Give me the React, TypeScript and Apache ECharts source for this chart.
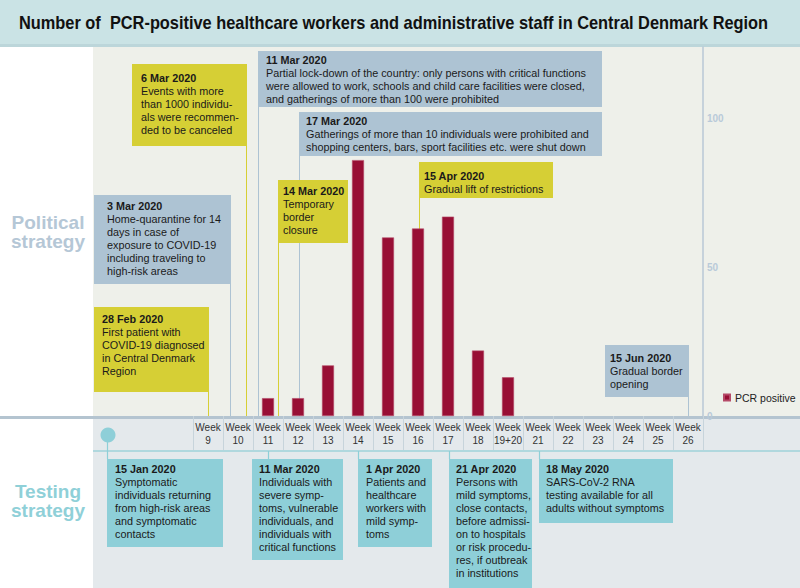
import React, { useEffect, useRef } from 'react';
import * as echarts from 'echarts';

const weeks = ['Week\n9', 'Week\n10', 'Week\n11', 'Week\n12', 'Week\n13', 'Week\n14', 'Week\n15', 'Week\n16', 'Week\n17', 'Week\n18', 'Week\n19+20', 'Week\n21', 'Week\n22', 'Week\n23', 'Week\n24', 'Week\n25', 'Week\n26'];
const pcrPositive = [null, null, 6, 6, 17, 86, 60, 63, 67, 22, 13, null, null, null, null, null, null];
const yTickValues = [0, 50, 100];
const seriesName = 'PCR positive';
const titleText = 'Number of  PCR-positive healthcare workers and administrative staff in Central Denmark Region';

const politicalDates = ['28 Feb 2020', '3 Mar 2020', '6 Mar 2020', '11 Mar 2020', '17 Mar 2020', '14 Mar 2020', '15 Apr 2020', '15 Jun 2020'];
const politicalTexts = [
  ['First patient with', 'COVID-19 diagnosed', 'in Central Denmark', 'Region'],
  ['Home-quarantine for 14', 'days in case of', 'exposure to COVID-19', 'including traveling to', 'high-risk areas'],
  ['Events with more', 'than 1000 individu-', 'als were recommen-', 'ded to be canceled'],
  ['Partial lock-down of the country: only persons with critical functions', 'were allowed to work, schools and child care facilities were closed,', 'and gatherings of more than 100 were prohibited'],
  ['Gatherings of more than 10 individuals were prohibited and', 'shopping centers, bars, sport facilities etc. were shut down'],
  ['Temporary', 'border', 'closure'],
  ['Gradual lift of restrictions'],
  ['Gradual border', 'opening'],
];
const politicalKinds = ['yellow', 'blue', 'yellow', 'blue', 'blue', 'yellow', 'yellow', 'blue'];

const testingDates = ['15 Jan 2020', '11 Mar 2020', '1 Apr 2020', '21 Apr 2020', '18 May 2020'];
const testingTexts = [
  ['Symptomatic', 'individuals returning', 'from high-risk areas', 'and symptomatic', 'contacts'],
  ['Individuals with', 'severe symp-', 'toms, vulnerable', 'individuals, and', 'individuals with', 'critical functions'],
  ['Patients and', 'healthcare', 'workers with', 'mild symp-', 'toms'],
  ['Persons with', 'mild symptoms,', 'close contacts,', 'before admissi-', 'on to hospitals', 'or risk procedu-', 'res, if outbreak', 'in institutions'],
  ['SARS-CoV-2 RNA', 'testing available for all', 'adults without symptoms'],
];

// layout (pixels): [x, y, w, h, textX, dateCenterY, connectorX]
const politicalLayout = [
  [94, 307, 115, 85, 102, 319, 208.5],
  [94, 195, 137, 89, 107, 206, 230.5],
  [132, 64, 115, 82, 141, 78, 246.5],
  [258, 51, 344, 56, 266, 60, 258.5],
  [299, 112, 303, 44, 306, 121, 299.5],
  [278, 180, 70, 63, 283, 191, 278.5],
  [419, 162, 134, 36, 424, 176, 419.5],
  [605, 345, 84, 52, 610, 358, 688.5],
];
const testingLayout = [
  [107, 459, 116, 88, 115, 469, 107.5],
  [252, 459, 91, 101, 259, 469, 268.5],
  [358, 459, 74, 88, 366, 469, 358.5],
  [449, 459, 83, 129, 456, 469, 449.5],
  [539, 459, 134, 64, 546, 469, 539.5],
];

const FONT = "'Liberation Sans', Arial, sans-serif";
const COLORS = {
  yellow: '#d6cf35',
  blue: '#adc3d3',
  teal: '#8ecfd8',
  bar: '#980f35',
};
const AXIS_Y = 416;
const BOX_FONT = 10.8;

function textEls(x: number, cy: number, date: string, lines: string[]) {
  return [
    {
      type: 'text', x, y: cy - 6.5, z: 6,
      style: { text: date, fontFamily: FONT, fontSize: BOX_FONT, fontWeight: 'bold', fill: '#1a1a1a', align: 'left', textAlign: 'left', verticalAlign: 'top', textVerticalAlign: 'top', lineHeight: 13 },
    },
    {
      type: 'text', x, y: cy + 6.5, z: 6,
      style: { text: lines.join('\n'), fontFamily: FONT, fontSize: BOX_FONT, fill: '#1a1a1a', align: 'left', textAlign: 'left', verticalAlign: 'top', textVerticalAlign: 'top', lineHeight: 13 },
    },
  ];
}

function buildGraphics() {
  const els: any[] = [];
  // backgrounds
  els.push({ type: 'rect', z: 0, shape: { x: 0, y: 0, width: 800, height: 44 }, style: { fill: '#cae3e5' } });
  els.push({ type: 'rect', z: 0, shape: { x: 0, y: 44, width: 800, height: 3 }, style: { fill: '#bcd6da' } });
  els.push({ type: 'rect', z: 0, shape: { x: 93, y: 47, width: 707, height: AXIS_Y - 47 }, style: { fill: '#eef0ea' } });
  els.push({ type: 'rect', z: 0, shape: { x: 93, y: AXIS_Y, width: 707, height: 588 - AXIS_Y }, style: { fill: '#e4e9ec' } });
  els.push({ type: 'rect', z: 1, shape: { x: 0, y: AXIS_Y, width: 800, height: 3 }, style: { fill: '#b4c4d0' } });
  els.push({ type: 'line', z: 1, shape: { x1: 93, y1: 451, x2: 800, y2: 451 }, style: { stroke: '#9fd2da', lineWidth: 1.5 } });
  // title
  els.push({
    type: 'text', x: 19, y: 23, z: 6, scaleX: 0.91,
    style: { text: titleText, fontFamily: FONT, fontSize: 18, fontWeight: 'bold', fill: '#111', align: 'left', textAlign: 'left', verticalAlign: 'middle', textVerticalAlign: 'middle' },
  });
  // side labels
  els.push({
    type: 'text', x: 48, y: 232, z: 6,
    style: { text: 'Political\nstrategy', fontFamily: FONT, fontSize: 19, fontWeight: 'bold', fill: '#b5c7d6', align: 'center', textAlign: 'center', verticalAlign: 'middle', textVerticalAlign: 'middle', lineHeight: 19 },
  });
  els.push({
    type: 'text', x: 48, y: 501, z: 6,
    style: { text: 'Testing\nstrategy', fontFamily: FONT, fontSize: 19, fontWeight: 'bold', fill: '#8fd0d8', align: 'center', textAlign: 'center', verticalAlign: 'middle', textVerticalAlign: 'middle', lineHeight: 19 },
  });
  // political annotations
  politicalDates.forEach((d, i) => {
    const [x, y, w, h, tx, cy, cx] = politicalLayout[i];
    const col = politicalKinds[i] === 'yellow' ? COLORS.yellow : COLORS.blue;
    els.push({ type: 'line', z: 2, shape: { x1: cx, y1: y + h, x2: cx, y2: AXIS_Y }, style: { stroke: col, lineWidth: 1 } });
    els.push({ type: 'rect', z: 5, shape: { x, y, width: w, height: h }, style: { fill: col } });
    els.push(...textEls(tx, cy, d, politicalTexts[i]));
  });
  // testing annotations
  els.push({ type: 'circle', z: 5, shape: { cx: 108, cy: 435, r: 7.5 }, style: { fill: COLORS.teal } });
  testingDates.forEach((d, i) => {
    const [x, y, w, h, tx, cy, cx] = testingLayout[i];
    const top = i === 0 ? 435 : 451;
    els.push({ type: 'line', z: 2, shape: { x1: cx, y1: top, x2: cx, y2: y }, style: { stroke: COLORS.teal, lineWidth: 1.2 } });
    els.push({ type: 'rect', z: 5, shape: { x, y, width: w, height: h }, style: { fill: COLORS.teal } });
    els.push(...textEls(tx, cy, d, testingTexts[i]));
  });
  return els;
}

export default function App() {
  const ref = useRef<HTMLDivElement>(null);
  useEffect(() => {
    if (!ref.current) return;
    const chart = echarts.init(ref.current, undefined, { renderer: 'svg' });
    chart.setOption({
      animation: false,
      backgroundColor: '#ffffff',
      grid: { left: 193, right: 97, top: 47, bottom: 588 - AXIS_Y },
      legend: {
        data: [seriesName], left: 723, top: 392, padding: 0,
        itemWidth: 6, itemHeight: 6, icon: 'rect',
        textStyle: { fontFamily: FONT, fontSize: 10.5, color: '#222' },
      },
      xAxis: {
        type: 'category', data: weeks, z: 3,
        axisLine: { show: false },
        axisTick: { show: true, length: 34, lineStyle: { color: '#c7d4db', width: 1 } },
        axisLabel: { interval: 0, margin: 5, fontFamily: FONT, fontSize: 10, color: '#333', lineHeight: 13, verticalAlign: 'top' },
      },
      yAxis: {
        type: 'value', position: 'right', min: 0, max: 124, interval: 50, z: 3,
        axisLine: { show: true, lineStyle: { color: '#b8c8d6', width: 1.5 } },
        axisTick: { show: false },
        splitLine: { show: false },
        axisLabel: {
          margin: 4, fontFamily: FONT, fontSize: 10, fontWeight: 'bold', color: '#b9cad9',
          formatter: (v: number) => (yTickValues.indexOf(v) >= 0 ? String(v) : ''),
        },
      },
      series: [{
        name: seriesName, type: 'bar', data: pcrPositive, barWidth: 12, z: 4,
        itemStyle: { color: COLORS.bar, borderColor: '#b54a68', borderWidth: 0.6 },
      }],
      graphic: { elements: buildGraphics() },
    });
    return () => chart.dispose();
  }, []);
  return <div ref={ref} style={{ position: 'absolute', left: 0, top: 0, width: 800, height: 588 }} />;
}
